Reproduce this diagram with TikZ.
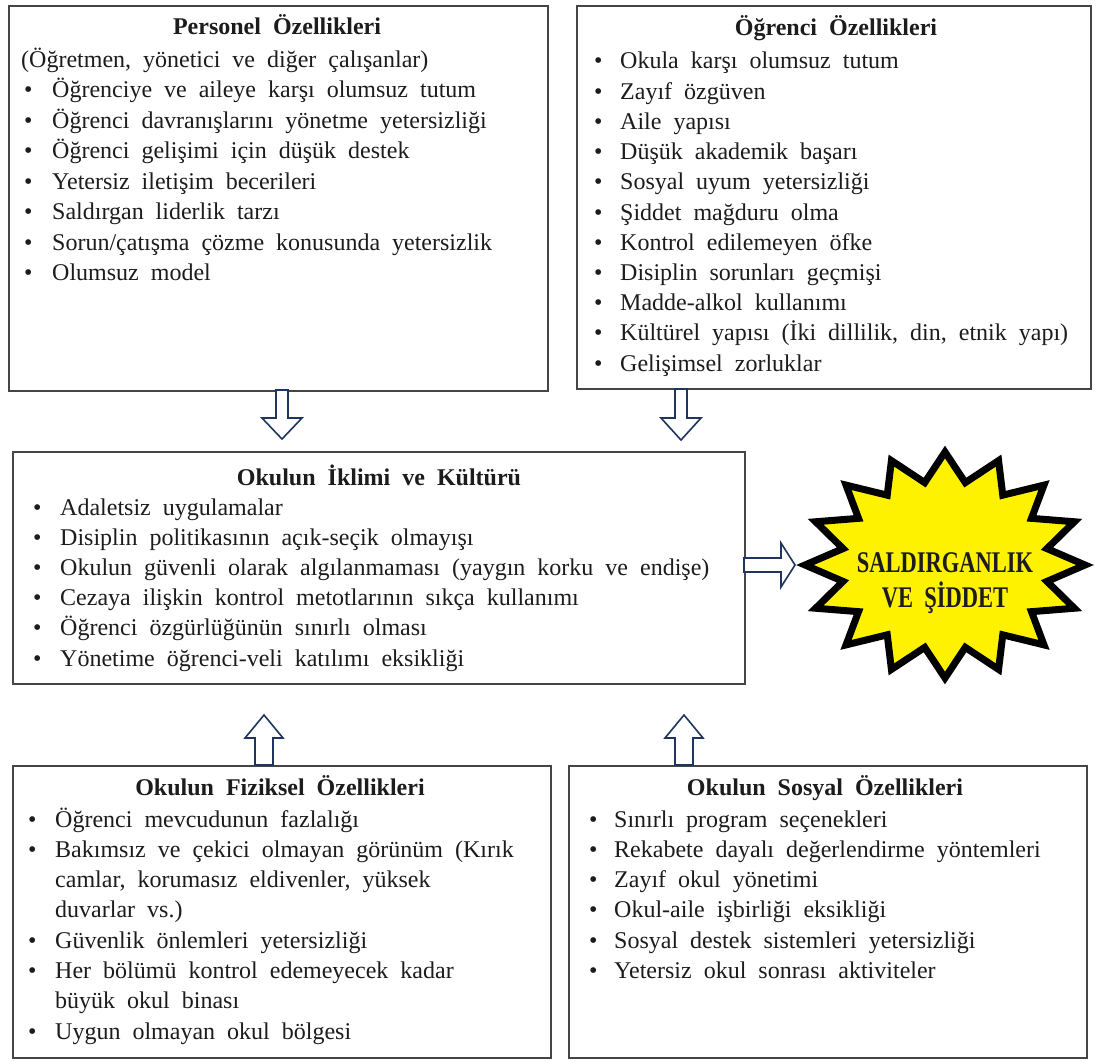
\documentclass[tikz,border=0pt]{standalone}
\usepackage{fontspec}
\setmainfont{Liberation Serif}[WordSpace=2]
\usetikzlibrary{calc}
\definecolor{boxline}{HTML}{454545}
\definecolor{arrowc}{HTML}{1F3560}
\definecolor{staryel}{HTML}{FFF200}
\definecolor{txtc}{HTML}{1C1C1C}
\tikzset{
  box/.style={draw=boxline, line width=2.2pt, fill=white, rectangle, inner sep=0pt, anchor=north west},
  ln/.style={anchor=base west, inner sep=0pt, font=\fontsize{24}{30}\selectfont, text=txtc},
  ttl/.style={anchor=base, inner sep=0pt, font=\fontsize{24}{30}\selectfont\bfseries, text=txtc},
  barrow/.style={draw=arrowc, line width=1.6pt, fill=white, line join=miter},
  startxt/.style={anchor=base, inner sep=0pt, font=\fontsize{30}{35}\selectfont\bfseries, text=txtc},
}
\begin{document}
\begin{tikzpicture}[x=1pt,y=-1pt]
\useasboundingbox (0,0) rectangle (1098,1062);
\fill[white] (0,0) rectangle (1098,1062);

% ---------- boxes ----------
\node[box, minimum width=539pt, minimum height=385pt] (pers) at (8,5) {};
\node[box, minimum width=514pt, minimum height=383pt] (ogr) at (576,5) {};
\node[box, minimum width=732pt, minimum height=232pt] (ikl) at (12,451) {};
\node[box, minimum width=538pt, minimum height=292pt] (fiz) at (12,765) {};
\node[box, minimum width=518pt, minimum height=292pt] (sos) at (568,765) {};

% ---------- Personel ----------
\node[ttl] (persT) at (277,35) {Personel Özellikleri};
\node[ln] (persS) at (21,68) {(Öğretmen, yönetici ve diğer çalışanlar)};
\foreach \t [count=\i] in {
  Öğrenciye ve aileye karşı olumsuz tutum,
  Öğrenci davranışlarını yönetme yetersizliği,
  Öğrenci gelişimi için düşük destek,
  Yetersiz iletişim becerileri,
  Saldırgan liderlik tarzı,
  Sorun/çatışma çözme konusunda yetersizlik,
  Olumsuz model}{
  \node[ln] (persB\i) at (24,{98+(\i-1)*30.4}) {\textbullet};
  \node[ln] (persL\i) at (52,{98+(\i-1)*30.4}) {\t};
}

% ---------- Öğrenci ----------
\node[ttl] (ogrT) at (836,36) {Öğrenci Özellikleri};
\foreach \t [count=\i] in {
  Okula karşı olumsuz tutum,
  Zayıf özgüven,
  Aile yapısı,
  Düşük akademik başarı,
  Sosyal uyum yetersizliği,
  Şiddet mağduru olma,
  Kontrol edilemeyen öfke,
  Disiplin sorunları geçmişi,
  Madde-alkol kullanımı,
  {Kültürel yapısı (İki dillilik, din, etnik yapı)},
  Gelişimsel zorluklar}{
  \node[ln] (ogrB\i) at (594,{69+(\i-1)*30.2}) {\textbullet};
  \node[ln] (ogrL\i) at (620,{69+(\i-1)*30.2}) {\t};
}

% ---------- İklim ----------
\node[ttl] (iklT) at (379,485) {Okulun İklimi ve Kültürü};
\foreach \t [count=\i] in {
  Adaletsiz uygulamalar,
  Disiplin politikasının açık-seçik olmayışı,
  Okulun güvenli olarak algılanmaması (yaygın korku ve endişe),
  Cezaya ilişkin kontrol metotlarının sıkça kullanımı,
  Öğrenci özgürlüğünün sınırlı olması,
  Yönetime öğrenci-veli katılımı eksikliği}{
  \node[ln] (iklB\i) at (33,{515+(\i-1)*30.2}) {\textbullet};
  \node[ln] (iklL\i) at (60,{515+(\i-1)*30.2}) {\t};
}

% ---------- Fiziksel ----------
\node[ttl] (fizT) at (280,795) {Okulun Fiziksel Özellikleri};
\node[ln] (fizB1) at (28,827) {\textbullet};
\node[ln] (fizL1) at (55,827) {Öğrenci mevcudunun fazlalığı};
\node[ln] (fizB2) at (28,857.3) {\textbullet};
\node[ln] (fizL2) at (55,857.3) {Bakımsız ve çekici olmayan görünüm (Kırık};
\node[ln] (fizL2b) at (55,887.6) {camlar, korumasız eldivenler, yüksek};
\node[ln] (fizL2c) at (55,917.9) {duvarlar vs.)};
\node[ln] (fizB3) at (28,948.2) {\textbullet};
\node[ln] (fizL3) at (55,948.2) {Güvenlik önlemleri yetersizliği};
\node[ln] (fizB4) at (28,978.5) {\textbullet};
\node[ln] (fizL4) at (55,978.5) {Her bölümü kontrol edemeyecek kadar};
\node[ln] (fizL4b) at (55,1008.8) {büyük okul binası};
\node[ln] (fizB5) at (28,1039.1) {\textbullet};
\node[ln] (fizL5) at (55,1039.1) {Uygun olmayan okul bölgesi};

% ---------- Sosyal ----------
\node[ttl] (sosT) at (825,795) {Okulun Sosyal Özellikleri};
\foreach \t [count=\i] in {
  Sınırlı program seçenekleri,
  Rekabete dayalı değerlendirme yöntemleri,
  Zayıf okul yönetimi,
  Okul-aile işbirliği eksikliği,
  Sosyal destek sistemleri yetersizliği,
  Yetersiz okul sonrası aktiviteler}{
  \node[ln] (sosB\i) at (589,{827+(\i-1)*30.3}) {\textbullet};
  \node[ln] (sosL\i) at (614,{827+(\i-1)*30.3}) {\t};
}

% ---------- star ----------
\path[draw=black, line width=7pt, fill=staryel, line join=miter, miter limit=20]
  plot[samples at={0,...,31}, variable=\k]
  ({945+ifthenelse(mod(\k,2)==0,140,104)*cos(90+\k*11.25)},
   {565-ifthenelse(mod(\k,2)==0,113,84)*sin(90+\k*11.25)}) -- cycle;
\node[startxt] (star1) at (945,572) {\scalebox{0.75}[1]{SALDIRGANLIK}};
\node[startxt] (star2) at (945,607) {\scalebox{0.75}[1]{VE ŞİDDET}};
\coordinate (star) at (800,565);

% ---------- block arrows ----------
\draw[barrow] (276,390) -- (288,390) -- (288,418) -- (302,418) -- (282,439) -- (262,418) -- (276,418) -- cycle;
\draw[barrow] (675,389) -- (687,389) -- (687,418) -- (701,418) -- (681,440) -- (661,418) -- (675,418) -- cycle;
\draw[barrow] (255,765) -- (273,765) -- (273,738) -- (283,738) -- (264,715) -- (245,738) -- (255,738) -- cycle;
\draw[barrow] (675,765) -- (693,765) -- (693,738) -- (703,738) -- (684,715) -- (665,738) -- (675,738) -- cycle;
\draw[barrow] (744,558) -- (781,558) -- (781,543) -- (795,565) -- (781,587) -- (781,572) -- (744,572) -- cycle;
\end{tikzpicture}
\end{document}
